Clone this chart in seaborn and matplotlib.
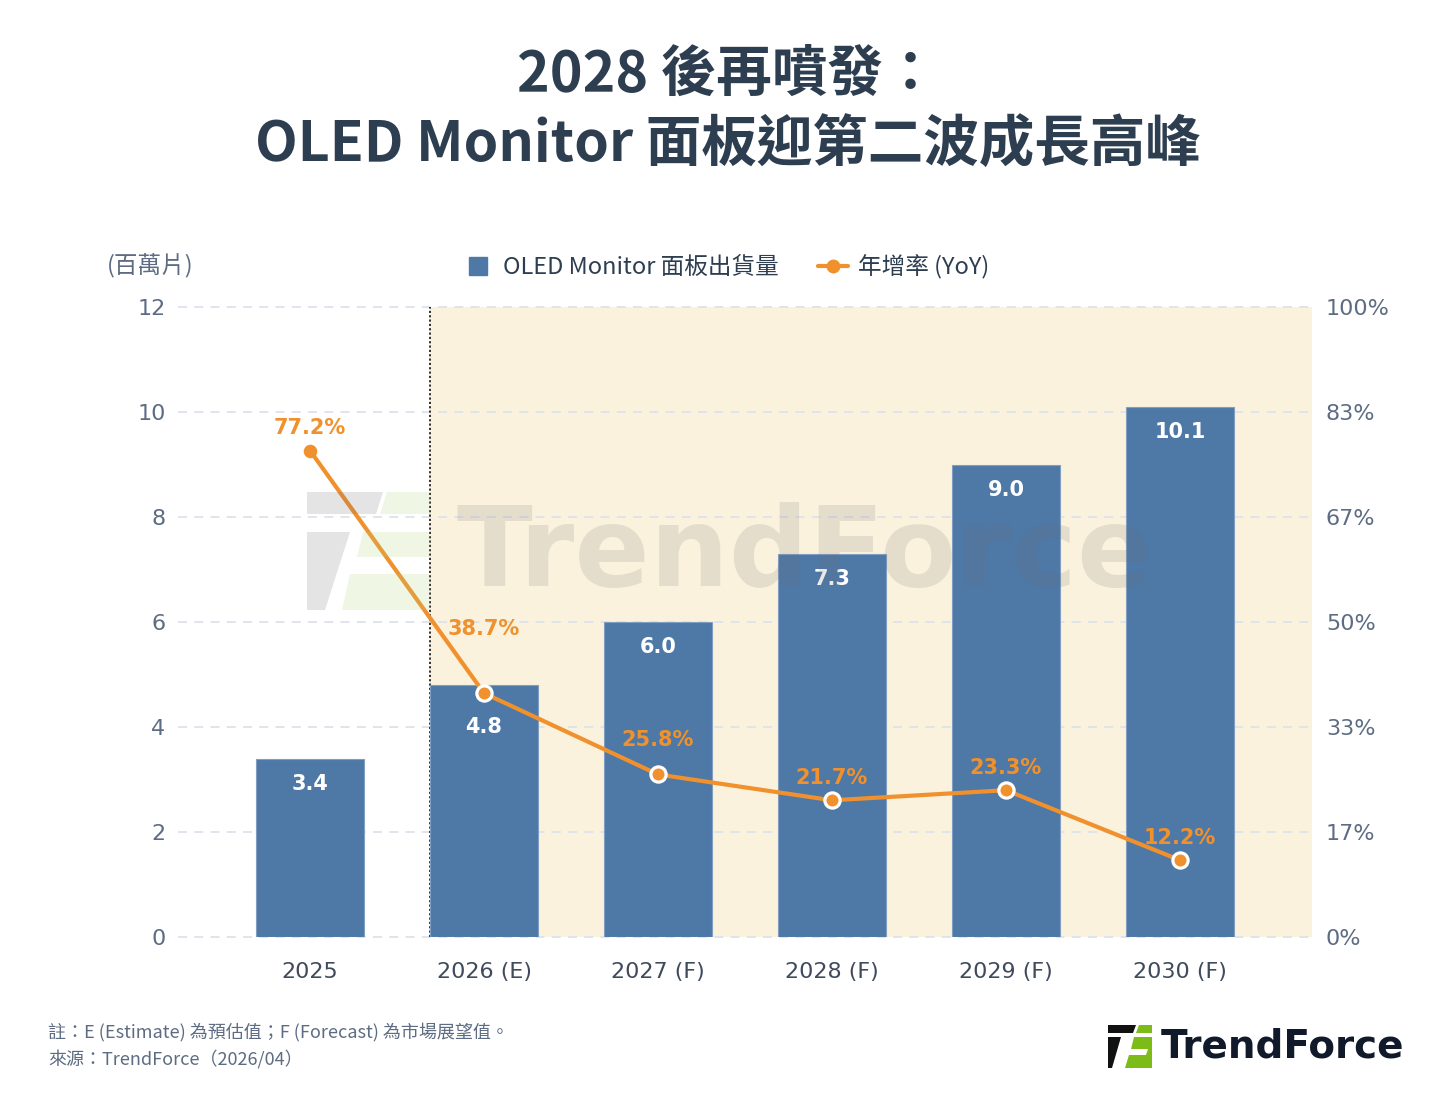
import numpy as np
import pandas as pd
import matplotlib
matplotlib.use("Agg")
import matplotlib.pyplot as plt
import seaborn as sns
from matplotlib.patches import Polygon
from matplotlib.lines import Line2D
from matplotlib.font_manager import FontProperties

# ---------------- data ----------------
categories = ["2025", "2026 (E)", "2027 (F)", "2028 (F)", "2029 (F)", "2030 (F)"]
shipments = [3.4, 4.8, 6.0, 7.3, 9.0, 10.1]
yoy = [77.2, 38.7, 25.8, 21.7, 23.3, 12.2]
left_ticks = [0, 2, 4, 6, 8, 10, 12]
right_tick_labels = ["0%", "17%", "33%", "50%", "67%", "83%", "100%"]

# label offsets (points)
yoy_label_offsets = [16.5, 46, 25, 16, 16, 16]
bar_label_offsets = [-18, -30, -18, -18, -18, -18]

# ---------------- style ----------------
sns.set_theme(style="white")
CJK = ["Noto Sans CJK TC", "DejaVu Sans"]
LAT = ["DejaVu Sans", "Noto Sans CJK TC"]
plt.rcParams["font.family"] = LAT

W, H = 1455, 1106
BAR = "#4e78a6"
ORANGE = "#f0912d"
NAVY = "#2e3e51"
GREY = "#5d6c82"

fig = plt.figure(figsize=(W / 100, H / 100), dpi=100)
fig.patch.set_facecolor("white")

def fx(x):
    return x / W

def fy(y):
    return 1 - y / H

ax = fig.add_axes([fx(178), fy(937), (1312 - 178) / W, (937 - 307) / H])
xlim = (-0.759, 5.759)
bar_w = 0.62

df = pd.DataFrame({"cat": categories, "ship": shipments, "yoy": yoy})

# background shading + grid
ax.axvspan(1 - bar_w / 2, xlim[1], color="#faf2dc", lw=0, zorder=0)
for t in left_ticks:
    ax.axhline(t, color="#dde3ec", lw=1.3, ls=(0, (5, 4)), zorder=1, clip_on=False)
ax.axvline(1 - bar_w / 2, color="#222222", lw=1.3, ls=(0, (1.2, 1.2)), zorder=1.5)

sns.barplot(data=df, x="cat", y="ship", color=BAR, width=bar_w, saturation=1,
            ax=ax, zorder=3, edgecolor="#7f9ec2", linewidth=0.8)

ax.set_xlim(*xlim)
ax.set_ylim(0, 12)
ax.set_yticks(left_ticks)
ax.set_yticklabels([str(t) for t in left_ticks])
ax.set_xlabel("")
ax.set_ylabel("")
ax.tick_params(axis="y", length=0, pad=9, labelsize=16, labelcolor=GREY)
ax.tick_params(axis="x", length=0, pad=18, labelsize=16, labelcolor="#3f4b5c")
for s in ax.spines.values():
    s.set_visible(False)

for i, v in enumerate(shipments):
    ax.annotate(f"{v:.1f}", (i, v), xytext=(0, bar_label_offsets[i]), textcoords="offset points",
                ha="center", va="center", color="white", fontsize=15,
                fontweight="bold", zorder=6)

# YoY line on twin axis
ax2 = ax.twinx()
idx = np.arange(len(categories))
sns.lineplot(x=idx, y=yoy, ax=ax2, color=ORANGE, lw=3, zorder=5)
sns.scatterplot(x=idx[:1], y=yoy[:1], ax=ax2, color=ORANGE, s=95,
                edgecolor=ORANGE, linewidth=0, zorder=6)
sns.scatterplot(x=idx[1:], y=yoy[1:], ax=ax2, color=ORANGE, s=120,
                edgecolor="white", linewidth=2.3, zorder=6)
ax2.set_xlim(*xlim)
ax2.set_ylim(0, 100)
ax2.set_yticks(np.linspace(0, 100, 7))
ax2.set_yticklabels(right_tick_labels)
ax2.set_ylabel("")
ax2.tick_params(axis="y", length=0, pad=10, labelsize=16, labelcolor=GREY)
for s in ax2.spines.values():
    s.set_visible(False)

for i, v in enumerate(yoy):
    ax2.annotate(f"{v:.1f}%", (i, v), xytext=(0, yoy_label_offsets[i]),
                 textcoords="offset points", ha="center", va="center",
                 color=ORANGE, fontsize=15, fontweight="bold", zorder=7)

# ---------------- titles & texts ----------------
fig.text(0.5, fy(75), "2028 後再噴發：", ha="center", va="center", fontsize=40,
         fontweight="bold", color=NAVY, family=CJK)
fig.text(0.5, fy(146), "OLED Monitor 面板迎第二波成長高峰", ha="center", va="center",
         fontsize=40, fontweight="bold", color=NAVY, family=CJK)

fig.text(fx(107), fy(266), "(百萬片)", ha="left", va="center", fontsize=17,
         color=GREY, family=CJK)

handles = [
    Line2D([], [], marker="s", ls="none", color=BAR, markersize=13),
    Line2D([], [], marker="o", lw=3, color=ORANGE, markersize=9),
]
fig.legend(handles, ["OLED Monitor 面板出貨量", "年增率 (YoY)"], loc="center",
           bbox_to_anchor=(fx(726), fy(267)), ncol=2, frameon=False,
           prop=FontProperties(family=CJK, size=17), handlelength=1.27,
           columnspacing=1.65, handletextpad=0.42, labelcolor=NAVY)

fig.text(fx(48), fy(1032), "註：E (Estimate) 為預估值；F (Forecast) 為市場展望值。",
         ha="left", va="center", fontsize=13, color=GREY, family=CJK)
fig.text(fx(48), fy(1060), "來源：TrendForce（2026/04）",
         ha="left", va="center", fontsize=13, color=GREY, family=CJK)

# ---------------- logo (bottom right) ----------------
def poly(pts, color, alpha=1.0, z=10):
    p = Polygon([(fx(x), fy(y)) for x, y in pts], closed=True, transform=fig.transFigure,
                facecolor=color, edgecolor="none", alpha=alpha, zorder=z)
    fig.add_artist(p)

poly([(1108, 1025), (1136, 1025), (1133, 1033), (1108, 1033)], "#111111")
poly([(1108, 1037), (1121, 1037), (1112, 1068), (1108, 1068)], "#111111")
poly([(1139, 1025), (1152, 1025), (1152, 1033), (1136, 1033)], "#7dbb18")
poly([(1134, 1037), (1152, 1037), (1152, 1068), (1125, 1068), (1129, 1055),
      (1146, 1055), (1148, 1049), (1131, 1049)], "#7dbb18")
fig.text(fx(1161), fy(1047), "TrendForce", ha="left", va="center", fontsize=28,
         fontweight="bold", color="#111a2b", family=LAT)

# ---------------- watermark ----------------
poly([(307, 492), (383, 492), (376, 514), (307, 514)], "#6b6b6b", alpha=0.18, z=8)
poly([(307, 532), (350, 532), (325, 610), (307, 610)], "#6b6b6b", alpha=0.18, z=8)
poly([(387, 492), (430, 492), (430, 514), (380, 514)], "#b8d27a", alpha=0.2, z=8)
poly([(363, 532), (430, 532), (430, 557), (357, 557)], "#b8d27a", alpha=0.2, z=8)
poly([(350, 574), (430, 574), (430, 610), (342, 610)], "#b8d27a", alpha=0.2, z=8)
fig.text(fx(805), fy(556), "TrendForce", ha="center", va="center", fontsize=80,
         fontweight="bold", color="#6b6b6b", alpha=0.15, family=LAT, zorder=8)

fig.savefig("out.png", dpi=100)
